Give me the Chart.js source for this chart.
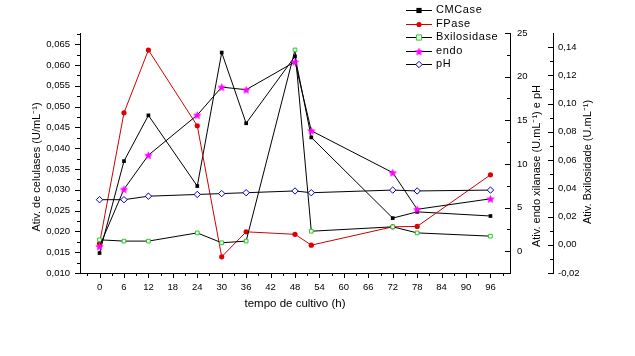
<!DOCTYPE html>
<html>
<head>
<meta charset="utf-8">
<script src="https://cdn.jsdelivr.net/npm/chart.js@4/dist/chart.umd.min.js"></script>
<style>
html,body{margin:0;padding:0;background:#fff;}
#wrap{width:635px;height:356px;}
</style>
</head>
<body>
<div id="wrap"><canvas id="c" width="635" height="356"></canvas></div>
<script>
// ---- data ----
const hours  = [0, 6, 12, 24, 30, 36, 48, 52, 72, 78, 96];
const cmcase = [0.0148, 0.0369, 0.0479, 0.0309, 0.0630, 0.0460, 0.0621, 0.0426, 0.0232, 0.0247, 0.0237];
const fpase  = [0.0171, 0.0485, 0.0636, 0.0454, 0.0139, 0.0199, 0.0193, 0.0167, 0.0211, 0.0212, 0.0336];
const bxil   = [0.0035, 0.0026, 0.0026, 0.0084, 0.0014, 0.0026, 0.1380, 0.0096, 0.0127, 0.0084, 0.0061];
const endo   = [0.55, 7.1, 11.0, 15.6, 18.8, 18.5, 21.7, 13.8, 9.0, 4.8, 6.0];
const ph     = [5.9, 5.9, 6.3, 6.5, 6.6, 6.7, 6.9, 6.7, 7.0, 6.9, 7.0];

const xTicks    = [0, 6, 12, 18, 24, 30, 36, 42, 48, 54, 60, 66, 72, 78, 84, 90, 96];
const celTicks  = [0.010, 0.015, 0.020, 0.025, 0.030, 0.035, 0.040, 0.045, 0.050, 0.055, 0.060, 0.065];
const endoTicks = [0, 5, 10, 15, 20, 25];
const bxTicks   = [-0.02, 0.00, 0.02, 0.04, 0.06, 0.08, 0.10, 0.12, 0.14];

const seriesNames = ['CMCase', 'FPase', 'Bxilosidase', 'endo', 'pH'];
const titleX    = 'tempo de cultivo (h)';
const titleCel  = 'Ativ. de celulases (U/mL\u207B\u00B9)';
const titleEndo = 'Ativ. endo xilanase (U.mL\u207B\u00B9) e pH';
const titleBx   = 'Ativ. Bxilosidade (U.mL\u207B\u00B9)';

const FONT = 'Arial, "Liberation Sans", sans-serif';

// filled star marker
function makeStar(color, R) {
  const s = Math.ceil(R * 2 + 2);
  const cv = document.createElement('canvas');
  cv.width = s; cv.height = s;
  const g = cv.getContext('2d');
  g.fillStyle = color;
  g.beginPath();
  for (let i = 0; i < 10; i++) {
    const r = i % 2 === 0 ? R : R * 0.45;
    const a = -Math.PI / 2 + i * Math.PI / 5;
    const px = s / 2 + r * Math.cos(a), py = s / 2 + r * Math.sin(a) + 0.5;
    i === 0 ? g.moveTo(px, py) : g.lineTo(px, py);
  }
  g.closePath();
  g.fill();
  return cv;
}
const star = makeStar('#ff00ff', 4.5);

const pts = arr => hours.map((h, i) => ({x: h, y: arr[i]}));
const fixTicks = list => (scale) => { scale.ticks = list.map(v => ({value: v})); };

const datasets = [
  {label: seriesNames[0], data: pts(cmcase), yAxisID: 'yC', borderColor: '#000', backgroundColor: '#000',
   pointStyle: 'rect', pointRadius: 2.6, pointBorderWidth: 0, borderWidth: 1, order: 4},
  {label: seriesNames[1], data: pts(fpase), yAxisID: 'yC', borderColor: '#d00000', backgroundColor: '#e00000',
   pointStyle: 'circle', pointRadius: 2.6, pointBorderWidth: 0, borderWidth: 1, order: 3},
  {label: seriesNames[2], data: pts(bxil), yAxisID: 'yB', borderColor: '#000', backgroundColor: '#fff',
   pointBorderColor: '#22cc22', pointStyle: 'rect', pointRadius: 2.6, pointBorderWidth: 1, borderWidth: 1, order: 2},
  {label: seriesNames[3], data: pts(endo), yAxisID: 'yE', borderColor: '#000', backgroundColor: '#ff00ff',
   pointStyle: star, pointRadius: 4.5, borderWidth: 1, order: 1},
  {label: seriesNames[4], data: pts(ph), yAxisID: 'yE', borderColor: '#000', backgroundColor: '#fff',
   pointBorderColor: '#0000c0', pointStyle: 'rectRot', pointRadius: 3.2, pointBorderWidth: 1, borderWidth: 1, order: 0}
];

const tickFont = {family: FONT, size: 9.5};

// axis tick marks, titles and legend
const decor = {
  id: 'decor',
  afterDraw(chart) {
    const ctx = chart.ctx;
    const ca = chart.chartArea;
    const sx = chart.scales.x, sc = chart.scales.yC, se = chart.scales.yE, sb = chart.scales.yB;
    ctx.save();
    ctx.strokeStyle = '#000';
    ctx.lineWidth = 1;
    ctx.beginPath();
    for (let v = -3; v <= 99; v += 3) {
      const px = Math.round(sx.getPixelForValue(v)) + 0.5;
      const len = (v % 6 === 0) ? 5 : 3;
      ctx.moveTo(px, ca.bottom); ctx.lineTo(px, ca.bottom + len);
    }
    for (let k = 0; k <= 23; k++) {
      const v = 0.010 + k * 0.0025;
      const py = Math.round(sc.getPixelForValue(v)) + 0.5;
      const len = (k % 2 === 0) ? 5 : 3;
      ctx.moveTo(sc.right, py); ctx.lineTo(sc.right - len, py);
    }
    for (let k = -1; k <= 10; k++) {
      const v = k * 2.5;
      const py = Math.round(se.getPixelForValue(v)) + 0.5;
      const len = (k % 2 === 0) ? 5 : 3;
      ctx.moveTo(se.left, py); ctx.lineTo(se.left - len, py);
    }
    for (let k = -2; k <= 14; k++) {
      const v = k * 0.01;
      const py = Math.round(sb.getPixelForValue(v)) + 0.5;
      const len = (k % 2 === 0) ? 5 : 3;
      ctx.moveTo(sb.left, py); ctx.lineTo(sb.left - len, py);
    }
    ctx.stroke();

    ctx.fillStyle = '#000';
    ctx.font = '11px ' + FONT;
    ctx.textAlign = 'center';
    ctx.textBaseline = 'middle';
    const vt = (t, x, y) => { ctx.save(); ctx.translate(x, y); ctx.rotate(-Math.PI / 2); ctx.fillText(t, 0, 0); ctx.restore(); };
    vt(titleCel, 37, 167);
    vt(titleEndo, 537, 166);
    vt(titleBx, 588, 162);

    // legend
    const rows = [10, 23.5, 37, 50.5, 64];
    ctx.textAlign = 'left';
    ctx.font = '11px ' + FONT;
    chart.data.datasets.forEach((ds, i) => {
      const y = rows[i];
      ctx.strokeStyle = ds.borderColor;
      ctx.lineWidth = 1;
      ctx.beginPath();
      ctx.moveTo(406, Math.round(y) + 0.5); ctx.lineTo(432, Math.round(y) + 0.5);
      ctx.stroke();
      const st = ds.pointStyle;
      const cx = 419, cy = Math.round(y) + 0.5;
      if (st instanceof HTMLCanvasElement) {
        ctx.drawImage(st, cx - st.width / 2, cy - st.height / 2);
      } else {
        ctx.fillStyle = ds.backgroundColor;
        ctx.strokeStyle = ds.pointBorderColor || ds.borderColor;
        ctx.lineWidth = ds.pointBorderWidth || 0;
        ctx.beginPath();
        const r = ds.pointRadius;
        if (st === 'rect') { ctx.rect(cx - r, cy - r, r * 2, r * 2); }
        else if (st === 'circle') { ctx.arc(cx, cy, r, 0, Math.PI * 2); }
        else if (st === 'rectRot') { ctx.moveTo(cx, cy - r); ctx.lineTo(cx + r, cy); ctx.lineTo(cx, cy + r); ctx.lineTo(cx - r, cy); ctx.closePath(); }
        ctx.fill();
        if (ds.pointBorderWidth) ctx.stroke();
      }
      ctx.fillStyle = '#000';
      ctx.save();
      try { ctx.letterSpacing = '0.6px'; } catch (e) {}
      ctx.fillText(ds.label, 436, y);
      ctx.restore();
    });
    ctx.restore();
  }
};

new Chart(document.getElementById('c'), {
  type: 'line',
  data: {datasets},
  options: {
    responsive: false,
    animation: false,
    devicePixelRatio: 1,
    layout: {padding: {top: 33, left: 0, right: 0, bottom: 0}},
    plugins: {legend: {display: false}, tooltip: {enabled: false}},
    elements: {line: {tension: 0}},
    scales: {
      x: {
        type: 'linear', position: 'bottom', min: -4.8, max: 100.8,
        afterBuildTicks: fixTicks(xTicks),
        afterFit: s => { s.height = 83; },
        grid: {display: false, drawTicks: false},
        border: {display: true, color: '#000', width: 1},
        ticks: {autoSkip: false, maxRotation: 0, padding: 9, color: '#000', font: tickFont, callback: v => String(v)},
        title: {display: true, text: titleX, color: '#000', font: {family: FONT, size: 11.5}, padding: {top: 0, bottom: 45}}
      },
      yC: {
        type: 'linear', position: 'left', min: 0.010, max: 0.0677,
        afterBuildTicks: fixTicks(celTicks),
        afterFit: s => { s.width = 80; },
        grid: {display: false, drawTicks: false},
        border: {display: true, color: '#000', width: 1},
        ticks: {autoSkip: false, padding: 10, color: '#000', font: tickFont, callback: v => v.toFixed(3).replace('.', ',')}
      },
      yE: {
        type: 'linear', position: 'right', weight: 1, min: -2.5, max: 25,
        afterBuildTicks: fixTicks(endoTicks),
        afterFit: s => { s.width = 43; },
        grid: {display: false, drawTicks: false},
        border: {display: true, color: '#000', width: 1},
        ticks: {autoSkip: false, padding: 7, color: '#000', font: tickFont, callback: v => String(v)}
      },
      yB: {
        type: 'linear', position: 'right', weight: 2, min: -0.02, max: 0.15,
        afterBuildTicks: fixTicks(bxTicks),
        afterFit: s => { s.width = 82; },
        grid: {display: false, drawTicks: false},
        border: {display: true, color: '#000', width: 1},
        ticks: {autoSkip: false, padding: 5, color: '#000', font: tickFont, callback: v => v.toFixed(2).replace('.', ',')}
      }
    }
  },
  plugins: [decor]
});
</script>
</body>
</html>
